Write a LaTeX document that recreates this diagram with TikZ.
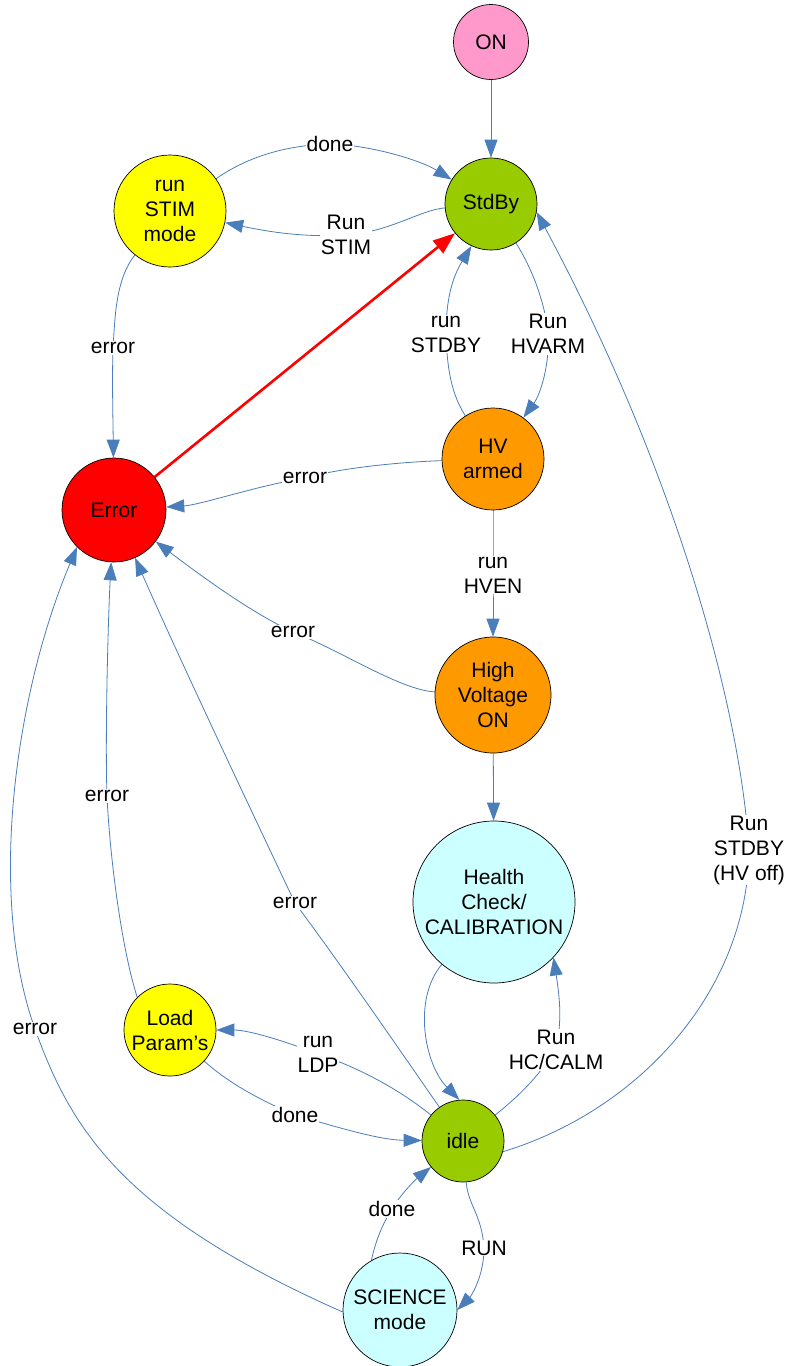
\documentclass[tikz,border=0pt]{standalone}
\usepackage{fontspec}
\setmainfont{Liberation Sans}
\usetikzlibrary{arrows.meta,backgrounds}
\definecolor{edgeblue}{HTML}{4A7EBB}
\definecolor{onpink}{HTML}{FF99CC}
\definecolor{stgreen}{HTML}{99CC00}
\definecolor{styellow}{HTML}{FFFF00}
\definecolor{storange}{HTML}{FF9900}
\definecolor{stcyan}{HTML}{CCFFFF}
\begin{document}
\begin{tikzpicture}[x=1pt,y=-1pt,
  state/.style={circle,draw=black,line width=0.7pt,inner sep=0pt,align=center,font=\fontsize{21}{25}\selectfont},
  lbl/.style={fill=white,inner sep=1pt,align=center,font=\fontsize{21}{25}\selectfont},
  edge/.style={draw=edgeblue,line width=0.8pt,-{Triangle[length=18pt,width=13pt]}},
  rededge/.style={draw=red,line width=2.6pt,-{Triangle[length=22pt,width=16pt]}}]
\useasboundingbox (0,0) rectangle (787,1366);
% states
\node[state,fill=onpink,minimum size=75pt] (on) at (491,42) {ON};
\node[state,fill=stgreen,minimum size=92pt] (sb) at (491,204) {StdBy};
\node[state,fill=styellow,minimum size=112pt] (stim) at (170,211) {run\\STIM\\mode};
\node[state,fill=red,minimum size=104pt] (err) at (114,510) {Error};
\node[state,fill=storange,minimum size=102pt] (hva) at (493,459) {HV\\armed};
\node[state,fill=storange,minimum size=116pt] (hvon) at (493,695) {High\\Voltage\\ON};
\node[state,fill=stcyan,minimum size=162pt] (hc) at (494,902) {Health\\Check/\\CALIBRATION};
\node[state,fill=styellow,minimum size=92pt] (ldp) at (170,1030) {Load\\Param’s};
\node[state,fill=stgreen,minimum size=82pt] (idle) at (463,1141) {idle};
\node[state,fill=stcyan,minimum size=114pt] (sci) at (400,1310) {SCIENCE\\mode};
% labels
\node[lbl] (l1) at (330,144) {done};
\node[lbl] (l2) at (346,235) {Run\\STIM};
\node[lbl] (l3) at (113,348) {error};
\node[lbl] (l4) at (446,334) {run\\STDBY};
\node[lbl] (l5) at (548,334) {Run\\HVARM};
\node[lbl] (l6) at (305,478) {error};
\node[lbl] (l7) at (493,575) {run\\HVEN};
\node[lbl] (l8) at (293,632) {error};
\node[lbl] (l9) at (749,850) {Run\\STDBY\\(HV off)};
\node[lbl] (l10) at (107,796) {error};
\node[lbl] (l11) at (295,903) {error};
\node[lbl] (l12) at (35,1029) {error};
\node[lbl] (l13) at (318,1054) {run\\LDP};
\node[lbl] (l14) at (295,1115) {done};
\node[lbl] (l15) at (556,1050) {Run\\HC/CALM};
\node[lbl] (l16) at (392,1209) {done};
\node[lbl] (l17) at (484,1248) {RUN};
% connectors
\begin{pgfonlayer}{background}
\fill[white] (0,0) rectangle (787,1366);
\draw[edge] (on) -- (sb);
\draw[edge] (stim) .. controls (250,155) and (290,145) .. (l1.center) .. controls (370,145) and (420,160) .. (sb);
\draw[edge] (sb) .. controls (420,210) and (390,232) .. (l2.center) .. controls (300,238) and (260,230) .. (stim);
\draw[edge] (stim) .. controls (115,280) and (115,320) .. (l3.center) .. controls (112,380) and (113,420) .. (err);
\draw[rededge] (err) -- (sb);
\draw[edge] (hva) .. controls (452,395) and (447,370) .. (l4.center) .. controls (446,300) and (452,278) .. (sb.-115);
\draw[edge] (sb) .. controls (530,265) and (545,300) .. (l5.center) .. controls (550,365) and (540,395) .. (hva);
\draw[edge] (hva) .. controls (400,462) and (340,468) .. (l6.center) .. controls (260,485) and (200,505) .. (err);
\draw[edge] (hva) -- (l7.center) -- (hvon);
\draw[edge] (hvon) .. controls (400,690) and (340,650) .. (l8.center) .. controls (250,612) and (200,575) .. (err);
\draw[edge] (hvon) -- (hc);
\draw[edge] (hc) .. controls (412,1000) and (425,1065) .. (idle.95);
\draw[edge] (idle) .. controls (520,1095) and (535,1080) .. (l15.center) .. controls (562,1020) and (560,1000) .. (hc.-43);
\draw[edge] (idle.-15) .. controls (640,1110) and (748,990) .. (l9.center) .. controls (741,715) and (680,480) .. (sb.-10);
\draw[edge] (idle) .. controls (400,1090) and (360,1068) .. (l13.center) .. controls (290,1043) and (250,1030) .. (ldp);
\draw[edge] (ldp) .. controls (225,1080) and (255,1098) .. (l14.center) .. controls (340,1128) and (380,1140) .. (idle);
\draw[edge] (ldp.135) .. controls (122,950) and (110,860) .. (l10.center) .. controls (105,740) and (108,620) .. (err);
\draw[edge] (idle) .. controls (410,1065) and (345,970) .. (l11.center) .. controls (250,808) and (180,660) .. (err);
\draw[edge] (sci.182) .. controls (119,1213) and (70,1126) .. (l12.center) .. controls (-14,892) and (17,689) .. (err.-135);
\draw[edge] (sci.120) .. controls (376,1240) and (382,1225) .. (l16.center) .. controls (400,1195) and (415,1180) .. (idle);
\draw[edge] (idle) .. controls (468,1205) and (482,1215) .. (l17.center) .. controls (484,1275) and (472,1295) .. (sci.0);
\end{pgfonlayer}
\end{tikzpicture}
\end{document}
